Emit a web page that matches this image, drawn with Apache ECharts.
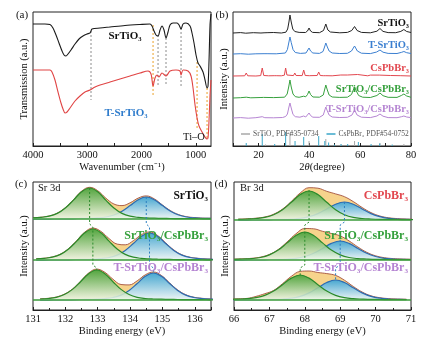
<!DOCTYPE html>
<html><head><meta charset="utf-8">
<script src="https://cdn.jsdelivr.net/npm/echarts@6/dist/echarts.min.js"></script>
<style>html,body{margin:0;padding:0;background:#fff}#c{width:446px;height:345px}</style>
</head><body><div id="c"></div>
<script>
const FONT = 'Liberation Serif';
// ---------- (a) FTIR: [wavenumber, transmission (a.u.)]
const ftirSrTiO3 = [[4000,122],[3779,122],[3687,121.5],[3632,118],[3576,111],[3521,103],[3465,95],[3428,91],[3392,90],[3355,92],[3300,96],[3226,102],[3152,107],[3079,110],[3005,112],[2950,113],[2931,115],[2913,117],[2765,118],[2581,119],[2305,120.5],[2028,121.5],[1844,122],[1807,120],[1770,115],[1733,111],[1696,110],[1659,116],[1623,120],[1586,116],[1549,108],[1512,114],[1475,121],[1420,123],[1346,123],[1309,121],[1272,117],[1235,122],[1180,123],[1106,120],[1070,113],[1033,103],[996,91],[959,83],[922,80],[867,74],[830,66],[793,58],[775,60],[756,86],[738,121],[720,132]];
const ftirTSrTiO3 = [[4000,76],[3687,76],[3650,74],[3595,66],[3539,54],[3484,43],[3447,37],[3410,33],[3373,34],[3318,38],[3226,45],[3134,50],[3042,54],[2950,56],[2857,59],[2765,61],[2581,64],[2397,67],[2212,70],[2028,73],[1880,75],[1825,72],[1788,60],[1752,68],[1715,71],[1678,69],[1623,73],[1549,70],[1475,75],[1365,76],[1291,75],[1272,71],[1235,76],[1143,75],[1088,70],[1051,58],[1014,41],[977,28],[941,20],[885,14],[830,9],[793,7],[775,8],[756,26],[738,51],[720,66]];
const ftirGrayMarks = [[2931,115,46],[1696,111,61],[1549,108,61],[1272,118,59]];
const ftirOrangeMarks = [[1788,121,51],[977,84,16],[793,58,6]];
const ftirTickLabels = [1000,2000,3000,4000];
// ---------- (b) XRD: [2theta, intensity (a.u.)]
const xrdSrTiO3 = [[10,113],[13,113.4],[15,112.8],[18,113.3],[21,113],[22.2,113.2],[22.8,114.5],[23.4,113.3],[26,113.5],[29,113],[30.8,113.8],[31.5,117],[32,124],[32.4,131],[32.9,124],[33.5,117],[34.3,114.5],[36,113.6],[38.5,113.5],[39.3,115],[39.9,118],[40.5,115],[41.3,113.6],[44,113.3],[45.6,115.5],[46.5,122],[47.3,116],[48.3,114],[52,113.2],[55,113.6],[56.7,115.5],[57.8,119.5],[58.8,115.5],[60.5,113.6],[64,113.2],[66.6,114.8],[67.8,117.5],[69,114.6],[71,113.4],[74,113.3],[76,114.6],[77.2,116.5],[78.3,114.5],[80,113.5]];
const xrdTSrTiO3 = [[10,92],[13,92.3],[16,91.8],[19,92.2],[22.2,92.3],[22.8,93.3],[23.4,92.3],[27,92.2],[30.6,93],[31.4,96.5],[32,104],[32.4,109],[32.9,103.5],[33.6,96.5],[34.5,93.5],[36.5,92.6],[38.7,93],[39.4,95],[39.9,98],[40.5,95],[41.4,93],[44,92.6],[45.4,94.5],[46,99],[46.5,103],[47.1,99],[47.8,95],[49,93],[52,92.5],[55,92.7],[56.6,95],[57.8,100],[58.9,95],[60.5,92.8],[64,92.4],[66.5,94],[67.8,96],[69,93.8],[71,92.6],[74.5,92.5],[76.2,93.6],[77.2,94.5],[78.3,93.3],[80,92.5]];
const xrdCsPbBr3 = [[10,70],[14.6,70.2],[15.2,73],[15.8,70.2],[19,70],[20.9,70.4],[21.5,78],[22.1,70.5],[24,70.2],[26.2,70.3],[26.6,71.5],[27,70.3],[29,70.2],[30.2,70.8],[30.7,78],[31.2,71],[33.8,70.4],[34.3,73],[34.8,70.5],[37.2,70.4],[37.8,76],[38.4,70.5],[40,70.3],[43.1,70.5],[43.7,74],[44.3,70.5],[45.5,70.3],[46,71.8],[46.5,70.3],[49,70.2],[52.4,71],[52.8,70.3],[55,71],[55.4,70.2],[59,71.5],[59.6,70.4],[63,70.2],[64,70.9],[64.5,70.2],[67.5,70.9],[68,70.2],[72,70.5],[72.5,70],[76,70.3],[80,70]];
const xrdSrCs = [[10,48],[13,48.3],[15.2,48.8],[17,48.2],[21,48.5],[21.5,50],[22,48.6],[26,48.4],[30.3,48.8],[30.7,50],[31.3,52],[31.9,59],[32.4,66],[32.9,59],[33.6,52],[34.5,49.3],[36,48.7],[37.8,49.8],[38.6,49.2],[39.3,51.5],[39.9,55],[40.5,51.5],[41.4,49],[44,48.8],[45.5,51],[46,56],[46.5,61],[47.1,56],[47.8,51],[49,49],[52,48.6],[55,48.8],[56.6,51.5],[57.3,56],[57.8,59],[58.5,55],[59.4,50.5],[61,48.8],[64,48.5],[66.6,50.5],[67.8,53],[69,50.3],[71,48.7],[74.5,48.6],[76.2,50.5],[77.2,52],[78.3,50],[80,48.7]];
const xrdTSrCs = [[10,28],[13,28.4],[16,27.8],[19,28.3],[21.5,29.3],[22.5,28.3],[26,28.2],[29.5,28.5],[30.7,29.5],[31.4,32],[32,39],[32.4,43],[32.9,38],[33.6,31.5],[34.5,29.3],[36.3,28.8],[37.8,30],[38.6,29],[39.3,30.5],[39.9,33],[40.5,30.5],[41.4,28.8],[44,28.7],[45.5,31],[46,35],[46.5,39],[47.1,35],[47.8,31],[49,29],[52,28.5],[55,28.7],[56.8,31],[57.8,36],[58.8,31],[60.5,28.8],[64,28.4],[66.6,30],[67.8,32],[69,29.8],[71,28.4],[74.5,28.3],[76.3,29.3],[77.2,30],[78.3,29],[80,28.4]];
const pdfSrTiO3 = [[22.8,1.5],[32.4,13],[39.9,5],[46.5,7],[52.4,1.5],[57.8,5],[67.8,3],[72.5,1],[77.2,2]];
const pdfCsPbBr3 = [[15.2,3],[21.5,12],[26.4,2],[30.7,14],[34.4,5],[37.8,9],[43.7,10],[46.1,5],[47.6,3.5],[49.9,1.5],[52.5,2],[55.1,2],[59.3,4],[64.3,2],[67.7,2.5],[72.6,1.5]];
const xrdTickLabels = [20,40,60,80];
// ---------- (c) Sr 3d XPS, heights above each row baseline, sampled every 0.25 eV
const srRowStart = [131.0, 131.1, 131.22];
const srGreenA = [1.1,1.6,2.8,5.6,11.0,18.9,27.2,31,27.2,18.9,11.0,5.6,2.8,1.6,1.1,0.8,0.6,0.5,0.4,0.3,0.3,0.2,0.2];
const srBlueA  = [0.2,0.2,0.2,0.3,0.4,0.4,0.6,0.7,1.1,2.0,4.0,7.8,13.4,19.3,22,19.3,13.4,7.8,4.0,2.0,1.1,0.7,0.6];
const srEnvA   = [1.3,1.8,3.0,5.9,11.4,19.3,27.8,31.7,28.3,20.9,15.0,13.4,16.2,20.9,23.1,20.1,14.0,8.3,4.4,2.3,1.4,0.9,0.8];
const srGreenB = [1.1,1.6,2.8,5.6,11.0,18.9,27.2,31,27.2,18.9,11.0,5.6,2.8,1.6,1.1,0.8,0.6,0.5,0.4,0.3,0.3,0.2,0.2];
const srBlueB  = [0.2,0.2,0.3,0.4,0.4,0.5,0.7,0.9,1.4,2.5,4.9,9.6,16.5,23.7,27,23.7,16.5,9.6,4.9,2.5,1.4,0.9,0.7];
const srEnvB   = [1.3,1.8,3.1,6.0,11.4,19.4,27.9,31.9,28.6,21.4,15.9,15.2,19.3,25.3,28.1,24.5,17.1,10.1,5.3,2.8,1.7,1.1,0.9];
const srGreenC = [1.0,1.5,2.7,5.5,10.6,18.3,26.3,30,26.3,18.3,10.6,5.5,2.7,1.5,1.0,0.8,0.6,0.5,0.4,0.3,0.3,0.2,0.2];
const srBlueC  = [0.2,0.2,0.3,0.4,0.4,0.5,0.7,0.9,1.4,2.5,4.9,9.6,16.5,23.7,27,23.7,16.5,9.6,4.9,2.5,1.4,0.9,0.7];
const srEnvC   = [1.2,1.7,3.0,5.9,11.0,18.8,27.0,30.9,27.7,20.8,15.5,15.1,19.2,25.2,28.0,24.5,17.1,10.1,5.3,2.8,1.7,1.1,0.9];
const srGreenLink = [[132.75,122],[132.75,86],[132.85,83],[132.85,45],[132.97,42],[132.97,40]];
const srBlueLink  = [[134.5,113],[134.5,86],[134.6,83],[134.6,45],[134.72,42],[134.72,37]];
// ---------- (d) Br 3d XPS
const brRowStart = [66.12, 66.0, 65.87];
const brGreenA = [0.7,1.0,1.5,2.6,5.3,10.3,17.7,25.4,29,25.4,17.7,10.3,5.3,2.6,1.5,1.0,0.7,0.6,0.5,0.4,0.3];
const brBlueA  = [0.2,0.2,0.3,0.4,0.5,0.6,0.9,1.6,3.3,6.4,11.0,15.8,18,15.8,11.0,6.4,3.3,1.6,0.9,0.6,0.5];
const brEnvA   = [0.9,1.2,1.8,3.0,5.8,10.9,18.6,27.0,32.3,31.8,28.7,26.1,23.3,18.4,12.5,7.4,4.0,2.2,1.4,1.0,0.8];
const brGreenB = [0.7,1.0,1.4,2.5,5.1,9.9,17.1,24.5,28,24.5,17.1,9.9,5.1,2.5,1.4,1.0,0.7,0.6,0.4,0.4,0.3];
const brBlueB  = [0.2,0.2,0.3,0.4,0.5,0.6,1.0,1.7,3.5,6.7,11.6,16.6,19,16.6,11.6,6.7,3.5,1.7,1.0,0.6,0.5];
const brEnvB   = [0.9,1.2,1.7,2.9,5.6,10.5,18.1,26.2,31.5,31.2,28.7,26.5,24.1,19.1,13.0,7.7,4.2,2.3,1.4,1.0,0.8];
const brGreenC = [0.6,0.9,1.3,2.3,4.6,8.9,15.3,21.9,25,21.9,15.3,8.9,4.6,2.3,1.3,0.9,0.6,0.5,0.4,0.3,0.3];
const brBlueC  = [0.2,0.3,0.3,0.4,0.5,0.7,1.0,1.8,3.6,7.1,12.2,17.5,20,17.5,12.2,7.1,3.6,1.8,1.0,0.7,0.5];
const brEnvC   = [0.8,1.2,1.6,3.6,6.3,9.6,16.3,23.7,28.6,29.0,27.5,26.4,24.6,19.8,13.5,8.0,4.2,2.3,1.4,1.0,0.8];
const brGreenLink = [[68.12,120],[68.12,88],[68.0,85],[68.0,45],[67.87,42],[67.87,35]];
const brBlueLink  = [[69.12,108],[69.12,88],[69.0,85],[69.0,45],[68.87,42],[68.87,30]];

// ---------- layout / style
const STEP = 0.25;
const ROW_BASE_C = [91, 50, 10];
const ROW_BASE_D = [90, 50, 10];
const chart = echarts.init(document.getElementById('c'), null, {renderer:'canvas'});
const TXT = '#111';

function xAx(gi, o) {
  return Object.assign({
    type:'value', gridIndex:gi,
    axisLine:{show:true, onZero:false, lineStyle:{color:'#222', width:1}},
    axisTick:{show:true, inside:true, length:3, lineStyle:{color:'#222'}},
    axisLabel:{color:TXT, fontFamily:FONT, fontSize:10.5, margin:4, formatter:v=>String(v)},
    splitLine:{show:false},
    nameLocation:'middle', nameGap:15,
    nameTextStyle:{fontFamily:FONT, fontSize:10.5, color:TXT}
  }, o);
}
function yAx(gi, max, name) {
  return {type:'value', gridIndex:gi, min:0, max:max,
    axisLine:{show:false}, axisTick:{show:false}, axisLabel:{show:false}, splitLine:{show:false},
    name:name, nameLocation:'middle', nameGap:3,
    nameTextStyle:{fontFamily:FONT, fontSize:10.5, color:TXT}};
}
function ln(i, data, color, w, extra) {
  return Object.assign({type:'line', xAxisIndex:i, yAxisIndex:i, data:data, symbol:'none',
    lineStyle:{color:color, width:w}, animation:false}, extra||{});
}
const gradG = () => new echarts.graphic.LinearGradient(0,0,0,1,[{offset:0,color:'#3e9f35'},{offset:1,color:'#f1f8ec'}]);
const gradB = () => new echarts.graphic.LinearGradient(0,0,0,1,[{offset:0,color:'#3ea5d4'},{offset:1,color:'#eef7fb'}]);

function xpsRow(i, x0, green, blue, env, base) {
  const pts = arr => arr.map((v,k)=>[+(x0 + k*STEP).toFixed(3), v + base]);
  return [
    ln(i, pts(env), '#a4503c', 0.9, {smooth:0.4, areaStyle:{origin:base, color:'#f7d38c', opacity:1}, z:2}),
    ln(i, pts(blue), '#2c6bb2', 1.2, {smooth:0.4, areaStyle:{origin:base, color:gradB(), opacity:0.95}, z:3}),
    ln(i, pts(green), '#2b8a2b', 1.2, {smooth:0.4, areaStyle:{origin:base, color:gradG(), opacity:0.88}, z:4})
  ];
}
function baseLine(i, min, max, base) {
  return ln(i, [[min,base],[max,base]], '#3a9b3a', 1.5, {z:5});
}

const series = [];
// (a)
series.push(ln(0, ftirSrTiO3, '#1a1a1a', 1.1, {smooth:0.3, z:3}));
series.push(ln(0, ftirTSrTiO3, '#e04444', 1.1, {smooth:0.3, z:3}));
ftirGrayMarks.forEach(m => series.push(ln(0, [[m[0],m[1]],[m[0],m[2]]], '#8c8c8c', 1, {lineStyle:{color:'#8c8c8c', width:1, type:[2,2]}, z:2})));
ftirOrangeMarks.forEach(m => series.push(ln(0, [[m[0],m[1]],[m[0],m[2]]], '#eba12a', 1, {lineStyle:{color:'#eba12a', width:1, type:[2,2]}, z:2})));
// (b)
series.push(ln(1, xrdSrTiO3, '#222222', 1));
series.push(ln(1, xrdTSrTiO3, '#3b7fd0', 1));
series.push(ln(1, xrdCsPbBr3, '#e2474f', 1));
series.push(ln(1, xrdSrCs, '#35a03c', 1));
series.push(ln(1, xrdTSrCs, '#b584d2', 1));
series.push({type:'bar', name:'SrTiO₃ PDF#35-0734', xAxisIndex:1, yAxisIndex:1, data:pdfSrTiO3, barWidth:1, barGap:'-100%', itemStyle:{color:'#a8a8a8'}, animation:false});
series.push({type:'bar', name:'CsPbBr₃ PDF#54-0752', xAxisIndex:1, yAxisIndex:1, data:pdfCsPbBr3, barWidth:1, barGap:'-100%', itemStyle:{color:'#3aa6c8'}, animation:false});
// (c)
const srG=[srGreenA,srGreenB,srGreenC], srB=[srBlueA,srBlueB,srBlueC], srE=[srEnvA,srEnvB,srEnvC];
for (let r=0;r<3;r++) series.push(...xpsRow(2, srRowStart[r], srG[r], srB[r], srE[r], ROW_BASE_C[r]));
for (let r=0;r<3;r++) series.push(baseLine(2, 131, 136.5, ROW_BASE_C[r]));
series.push(ln(2, srGreenLink, '#2b8a2b', 1, {lineStyle:{color:'#2b8a2b', width:1, type:[2,2]}, z:6}));
series.push(ln(2, srBlueLink, '#2c7fc0', 1, {lineStyle:{color:'#2c7fc0', width:1, type:[2,2]}, z:6}));
// (d)
const brG=[brGreenA,brGreenB,brGreenC], brB=[brBlueA,brBlueB,brBlueC], brE=[brEnvA,brEnvB,brEnvC];
for (let r=0;r<3;r++) series.push(...xpsRow(3, brRowStart[r], brG[r], brB[r], brE[r], ROW_BASE_D[r]));
for (let r=0;r<3;r++) series.push(baseLine(3, 66, 71, ROW_BASE_D[r]));
series.push(ln(3, brGreenLink, '#2b8a2b', 1, {lineStyle:{color:'#2b8a2b', width:1, type:[2,2]}, z:6}));
series.push(ln(3, brBlueLink, '#2c7fc0', 1, {lineStyle:{color:'#2c7fc0', width:1, type:[2,2]}, z:6}));

function T(x, y, text, o) {
  o = o || {};
  return {type:'text', x:x, y:y, z:100, style:{text:text, fill:o.fill||TXT,
    font:(o.bold?'bold ':'') + (o.size||11) + 'px "' + FONT + '"', align:o.align||'center', verticalAlign:'middle'}};
}
const graphics = [
  T(22,15,'(a)'), T(222,15,'(b)'), T(21,184,'(c)'), T(221,184,'(d)'),
  T(125,36,'SrTiO₃',{bold:true,size:11}), T(126,113,'T-SrTiO₃',{bold:true,size:11,fill:'#2f7ccc'}),
  T(194,137,'Ti–O',{size:10.5}),
  T(409,23,'SrTiO₃',{bold:true,size:10.5,align:'right'}),
  T(409,45,'T-SrTiO₃',{bold:true,size:10.5,align:'right',fill:'#3b7fd0'}),
  T(409,68,'CsPbBr₃',{bold:true,size:10.5,align:'right',fill:'#e2474f'}),
  T(409,89,'SrTiO₃/CsPbBr₃',{bold:true,size:10.5,align:'right',fill:'#35a03c'}),
  T(409,109,'T-SrTiO₃/CsPbBr₃',{bold:true,size:10.5,align:'right',fill:'#b584d2'}),
  T(38,188,'Sr 3d',{size:10.5,align:'left'}), T(240,188,'Br 3d',{size:10.5,align:'left'}),
  T(208,196,'SrTiO₃',{bold:true,size:11.5,align:'right'}),
  T(208,236,'SrTiO₃/CsPbBr₃',{bold:true,size:12,align:'right',fill:'#35a03c'}),
  T(208,268,'T-SrTiO₃/CsPbBr₃',{bold:true,size:12,align:'right',fill:'#b584d2'}),
  T(408,196,'CsPbBr₃',{bold:true,size:12,align:'right',fill:'#e2474f'}),
  T(408,236,'SrTiO₃/CsPbBr₃',{bold:true,size:12,align:'right',fill:'#35a03c'}),
  T(408,268,'T-SrTiO₃/CsPbBr₃',{bold:true,size:12,align:'right',fill:'#b584d2'})
];

const option = {
  animation:false,
  grid:[
    {left:33, top:12, width:178, height:134, show:true, borderColor:'#222', borderWidth:1},
    {left:233, top:12, width:178, height:134, show:true, borderColor:'#222', borderWidth:1},
    {left:33, top:182, width:178, height:128, show:true, borderColor:'#222', borderWidth:1},
    {left:234, top:182, width:177, height:128, show:true, borderColor:'#222', borderWidth:1}
  ],
  xAxis:[
    xAx(0,{min:720, max:4000, inverse:true, name:'Wavenumber (cm⁻¹)',
      axisLabel:{color:TXT, fontFamily:FONT, fontSize:10.5, margin:4, formatter:v=>String(v), customValues:ftirTickLabels},
      axisTick:{show:true, inside:true, length:3, lineStyle:{color:'#222'}, customValues:[1000,1500,2000,2500,3000,3500,4000]}}),
    xAx(1,{min:10, max:80, interval:10, name:'{n|2}{i|θ}{n|(degree)}',
      nameTextStyle:{fontFamily:FONT, fontSize:10.5, color:TXT, rich:{n:{fontFamily:FONT,fontSize:10.5,color:TXT}, i:{fontFamily:FONT,fontSize:10.5,fontStyle:'italic',color:TXT}}},
      axisLabel:{color:TXT, fontFamily:FONT, fontSize:10.5, margin:4, formatter:v=>String(v), customValues:xrdTickLabels}}),
    xAx(2,{min:131, max:136.5, interval:1, name:'Binding energy (eV)', nameGap:16,
      minorTick:{show:true, splitNumber:2, length:2, lineStyle:{color:'#222'}}}),
    xAx(3,{min:66, max:71, interval:1, name:'Binding energy (eV)', nameGap:16,
      minorTick:{show:true, splitNumber:2, length:2, lineStyle:{color:'#222'}}})
  ],
  yAxis:[ yAx(0,134,'Transmission (a.u.)'), yAx(1,134,'Intensity (a.u.)'), yAx(2,128,'Intensity (a.u.)'), yAx(3,128,'Intensity (a.u.)') ],
  legend:{left:236, top:125, itemWidth:9, itemHeight:1.5, itemGap:8, icon:'rect',
    data:['SrTiO₃ PDF#35-0734','CsPbBr₃ PDF#54-0752'],
    textStyle:{fontFamily:FONT, fontSize:7.5, color:'#555', padding:[0,0,0,-2]}},
  series:series,
  graphic:graphics
};
chart.setOption(option);
</script></body></html>
